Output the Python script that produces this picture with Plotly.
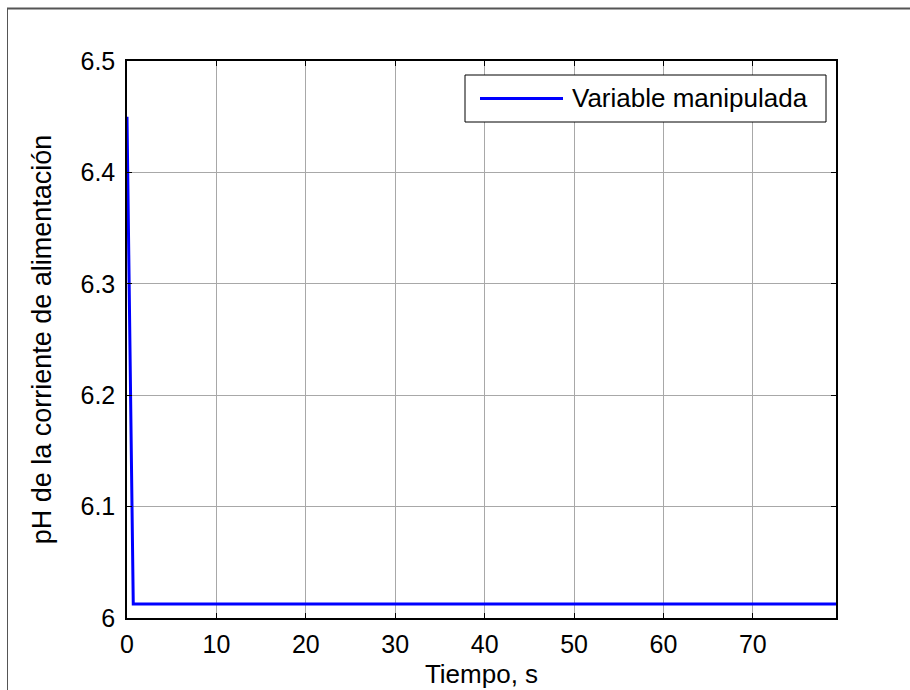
import plotly.graph_objects as go

# Step response of the manipulated variable (feed-stream pH)
tiempo = [0.0, 0.7, 80.0]
ph_alimentacion = [6.45, 6.0125, 6.0125]

x_ticks = [0, 10, 20, 30, 40, 50, 60, 70]
y_ticks = [6.0, 6.1, 6.2, 6.3, 6.4, 6.5]
y_tick_text = ["6", "6.1", "6.2", "6.3", "6.4", "6.5"]

serie = "Variable manipulada"
x_titulo = "Tiempo, s"
y_titulo = "pH de la corriente de alimentación"

FONT = "Liberation Sans, Arial, sans-serif"

fig = go.Figure()
fig.add_trace(go.Scatter(
    x=tiempo, y=ph_alimentacion, mode="lines", name=serie,
    line=dict(color="#0000ff", width=3), showlegend=False,
))

axis_common = dict(
    showline=True, linecolor="black", linewidth=1.5, mirror="ticks",
    ticks="inside", ticklen=5, tickwidth=1, tickcolor="black",
    showgrid=True, gridcolor="#a8a8a8", gridwidth=1,
    zeroline=False, automargin=False,
    tickfont=dict(family=FONT, size=25, color="black"),
)

fig.update_xaxes(
    range=[0, 79.3], tickvals=x_ticks, ticklabelstandoff=3,
    title=dict(text=x_titulo, font=dict(family=FONT, size=26, color="black"), standoff=8),
    **axis_common,
)
fig.update_yaxes(
    range=[6.0, 6.5], tickvals=y_ticks, ticktext=y_tick_text, ticklabelstandoff=5,
    title=dict(text=y_titulo, font=dict(family=FONT, size=27, color="black"), standoff=21),
    **axis_common,
)

# Legend box drawn in paper coordinates
L_X0, L_X1 = (465 - 127) / 709, (826 - 127) / 709
L_Y0, L_Y1 = (618 - 122) / 557, (618 - 75) / 557
L_YM = (L_Y0 + L_Y1) / 2
shapes = [
    dict(type="rect", xref="paper", yref="paper", x0=L_X0, x1=L_X1, y0=L_Y0, y1=L_Y1,
         line=dict(color="black", width=1), fillcolor="white", layer="above"),
    dict(type="line", xref="paper", yref="paper",
         x0=(480 - 127) / 709, x1=(563 - 127) / 709, y0=L_YM, y1=L_YM,
         line=dict(color="#0000ff", width=3), layer="above"),
    # figure frame (top and left edges)
    dict(type="line", xref="paper", yref="paper",
         x0=(7 - 127) / 709, x1=(910 - 127) / 709, y0=(618 - 8.5) / 557, y1=(618 - 8.5) / 557,
         line=dict(color="#555555", width=2), layer="above"),
    dict(type="line", xref="paper", yref="paper",
         x0=(7.5 - 127) / 709, x1=(7.5 - 127) / 709, y0=(618 - 8) / 557, y1=(618 - 700) / 557,
         line=dict(color="#555555", width=1), layer="above"),
]
annotations = [
    dict(text=serie, xref="paper", yref="paper", x=(570 - 127) / 709, y=L_YM,
         xanchor="left", yanchor="middle", showarrow=False,
         font=dict(family=FONT, size=26, color="black")),
]

fig.update_layout(
    width=910, height=690,
    margin=dict(l=127, r=74, t=61, b=72),
    plot_bgcolor="white", paper_bgcolor="white",
    shapes=shapes, annotations=annotations,
    showlegend=False,
)

fig.write_html("out.html")
